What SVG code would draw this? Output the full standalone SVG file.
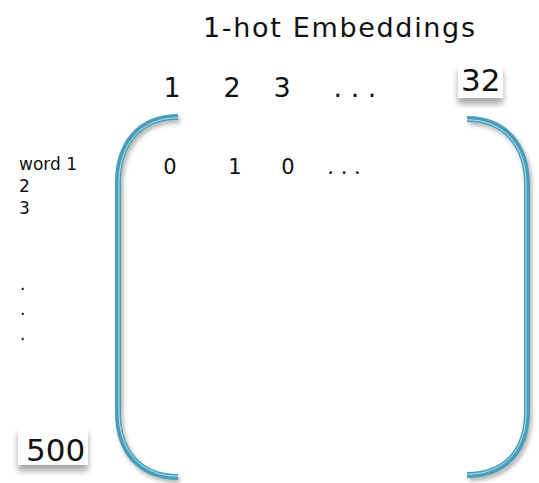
<svg xmlns="http://www.w3.org/2000/svg" width="539" height="483" viewBox="0 0 539 483">
  <style>
    text { font-family: "DejaVu Sans", "Liberation Sans", sans-serif; fill: #111; }
    .title { font-size: 27px; }
    .hdr { font-size: 27px; }
    .row { font-size: 17px; }
    .val { font-size: 21px; }
    .big { font-size: 31px; }
    .br { fill: none; stroke: #4a9fbb; stroke-width: 6; stroke-linecap: butt; }
    .hl { fill: none; stroke: #b8dfea; stroke-width: 1; }
    .box { fill: #ffffff; }
  </style>
  <defs>
    <filter id="sh" x="-20%" y="-20%" width="150%" height="150%">
      <feDropShadow dx="2" dy="3" stdDeviation="2" flood-color="#000" flood-opacity="0.3"/>
    </filter>
    <filter id="bsh" x="-20%" y="-20%" width="150%" height="150%">
      <feDropShadow dx="0" dy="6" stdDeviation="3" flood-color="#000" flood-opacity="0.35"/>
    </filter>
    <clipPath id="clip32"><rect x="458" y="60" width="45" height="40"/></clipPath>
  </defs>

  <rect width="539" height="483" fill="#ffffff"/>

  <g id="title">
    <text class="title" x="203" y="37" textLength="272" lengthAdjust="spacing">1-hot Embeddings</text>
  </g>

  <g id="brackets">
    <g id="left-bracket" filter="url(#sh)">
      <path class="br" d="M178,117 C140,117 118,143 118,183 L118,412 C118,452 140,477 178,477"/>
      <path class="hl" d="M178,117.8 C141,117.8 119,143.8 119,183 L119,412 C119,451 141,476.2 178,476.2"/>
    </g>
    <g id="right-bracket" filter="url(#sh)">
      <path class="br" d="M467,119 C505,119 527,145 527,185 L527,412 C527,451 505,475 467,475"/>
      <path class="hl" d="M467,119.8 C504,119.8 526,145.8 526,185 L526,412 C526,450.2 504,474.2 467,474.2"/>
    </g>
  </g>

  <g id="column-headers">
    <text class="hdr" x="172" y="97" text-anchor="middle">1</text>
    <text class="hdr" x="232" y="97" text-anchor="middle">2</text>
    <text class="hdr" x="282" y="97" text-anchor="middle">3</text>
    <text class="hdr" x="355" y="97" text-anchor="middle">. . .</text>
  </g>

  <g id="label-32">
    <rect class="box" x="458" y="65" width="45" height="33" filter="url(#bsh)"/>
    <text class="big" x="461" y="91" clip-path="url(#clip32)">32</text>
  </g>

  <g id="row-labels">
    <text class="row" x="19" y="170">word 1</text>
    <text class="row" x="19" y="192">2</text>
    <text class="row" x="19" y="214">3</text>
    <text class="row" x="20" y="290">.</text>
    <text class="row" x="20" y="315">.</text>
    <text class="row" x="20" y="340">.</text>
  </g>

  <g id="first-row-values">
    <text class="val" x="170" y="174" text-anchor="middle">0</text>
    <text class="val" x="235" y="174" text-anchor="middle">1</text>
    <text class="val" x="288" y="174" text-anchor="middle">0</text>
    <text class="val" x="344" y="174" text-anchor="middle">. . .</text>
  </g>

  <g id="label-500">
    <rect class="box" x="18" y="427" width="70" height="38" filter="url(#bsh)"/>
    <text class="big" x="26" y="461">500</text>
  </g>
</svg>
